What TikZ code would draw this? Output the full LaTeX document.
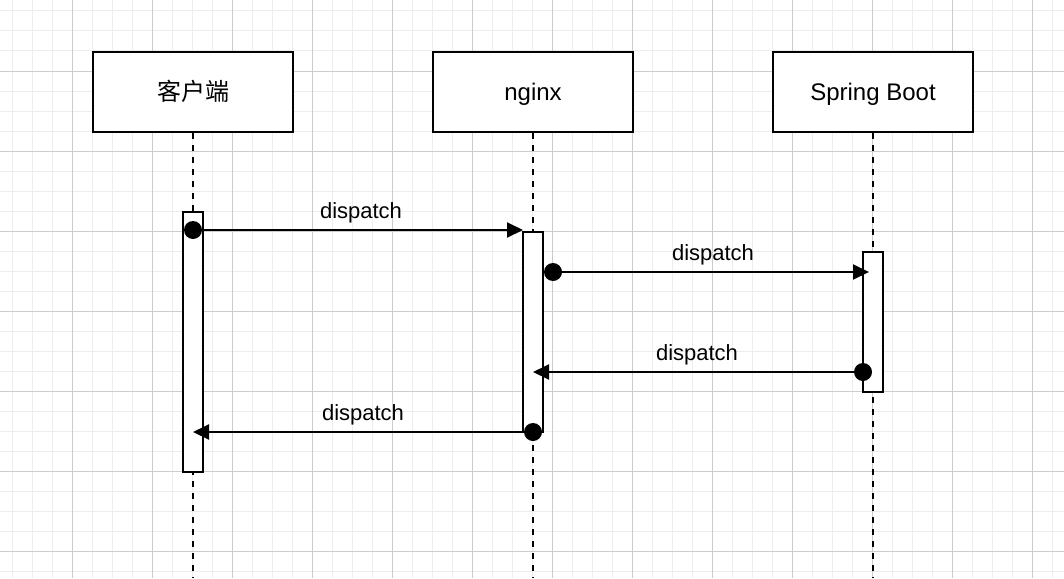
\documentclass[tikz,border=0pt]{standalone}
\usepackage{fontspec}
\setmainfont{Liberation Sans}
\newfontfamily\cjk{Noto Sans CJK SC}
\usetikzlibrary{arrows.meta}
\begin{document}
\begin{tikzpicture}[x=1pt,y=-1pt,
  minorgrid/.style={draw=black!7,line width=1pt},
  majorgrid/.style={draw=black!20,line width=1pt},
  actor/.style={draw=black,line width=2pt,fill=white,minimum width=200pt,minimum height=80pt,inner sep=0pt,text height=20pt,text depth=4pt,font=\fontsize{24}{28}\selectfont},
  lifeline/.style={draw=black,line width=2pt,dash pattern=on 6pt off 6pt},
  actbar/.style={draw=black,line width=2pt,fill=white,minimum width=20pt,inner sep=0pt},
  msg/.style={draw=black,line width=2pt,-{Triangle[length=16pt,width=15pt]}},
  dot/.style={circle,fill=black,minimum size=18pt,inner sep=0pt},
  lbl/.style={font=\fontsize{22}{26}\selectfont,inner sep=0pt}]
\useasboundingbox (0,0) rectangle (1064,578);
\fill[white] (0,0) rectangle (1064,578);
% grid
\foreach \x in {12,32,...,1064} \draw[minorgrid] (\x,0) -- (\x,578);
\foreach \y in {11,31,...,578} \draw[minorgrid] (0,\y) -- (1064,\y);
\foreach \x in {72,152,...,1064} \draw[majorgrid] (\x,0) -- (\x,578);
\foreach \y in {71,151,...,578} \draw[majorgrid] (0,\y) -- (1064,\y);
% actors
\node[actor] (c) at (193,92) {\cjk 客户端};
\node[actor] (n) at (533,92) {nginx};
\node[actor] (s) at (873,92) {Spring Boot};
\coordinate (cend) at (193,578);
\coordinate (nend) at (533,578);
\coordinate (send) at (873,578);
\draw[lifeline] (c.south) -- (cend);
\draw[lifeline] (n.south) -- (nend);
\draw[lifeline] (s.south) -- (send);
% activation bars
\node[actbar,minimum height=260pt] (cb) at (193,342) {};
\node[actbar,minimum height=200pt] (nb) at (533,332) {};
\node[actbar,minimum height=140pt] (sb) at (873,322) {};
% messages
\node[dot] (d1) at (193,230) {};
\coordinate (t1) at (523,230);
\draw[msg] (d1.center) -- (t1);
\node[lbl] (l1) at (361,213) {dispatch};
\node[dot] (d2) at (553,272) {};
\coordinate (t2) at (869,272);
\draw[msg] (d2.center) -- (t2);
\node[lbl] (l2) at (713,255) {dispatch};
\node[dot] (d3) at (863,372) {};
\coordinate (t3) at (533,372);
\draw[msg] (d3.center) -- (t3);
\node[lbl] (l3) at (697,355) {dispatch};
\node[dot] (d4) at (533,432) {};
\coordinate (t4) at (193,432);
\draw[msg] (d4.center) -- (t4);
\node[lbl] (l4) at (363,415) {dispatch};
\end{tikzpicture}
\end{document}
